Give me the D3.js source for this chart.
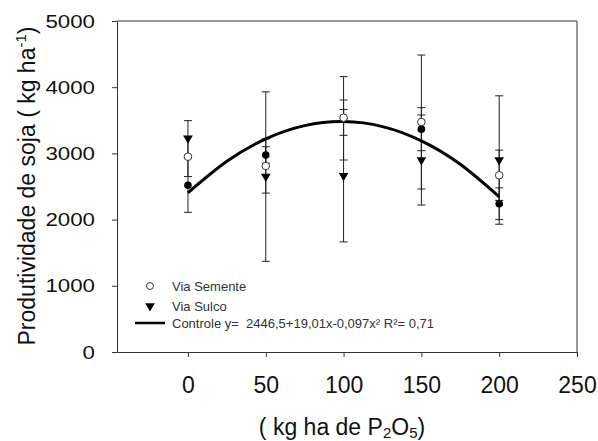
<!DOCTYPE html>
<html>
<head>
<meta charset="utf-8">
<script src="https://cdn.jsdelivr.net/npm/d3@7"></script>
<style>
  body { margin: 0; background: #fff; }
  svg { font-family: "Liberation Sans", Arial, sans-serif; }
</style>
</head>
<body>
<div id="chart"></div>
<script>
// doses (kg ha de P2O5)
var doses = [0, 50, 100, 150, 200]

// Via Semente (open circles)
var semente = [2950, 2810, 3540, 3474, 2670]
var sementeErr = [300, 410, 267, 1012, 380]

// Via Sulco (filled triangles)
var sulco = [3230, 2650, 2663, 2900, 2900]
var sulcoErr = [265, 1280, 1000, 680, 970]

// Controle (filled circles)
var controle = [2520, 2976, 3530, 3366, 2240]
var controleErr = [410, 125, 630, 325, 240]

// regression curve
var curveX = [0, 25, 50, 75, 100, 125, 150, 175, 200]
var curveY = [2405, 2880, 3220, 3420, 3480, 3405, 3190, 2835, 2345]

var xTicks = [0, 50, 100, 150, 200, 250]
var yTicks = [0, 1000, 2000, 3000, 4000, 5000]

var width = 598
var height = 441
var margin = {top: 21, right: 21, bottom: 89, left: 117}
var w = width - margin.left - margin.right
var h = height - margin.top - margin.bottom

var svg = d3.select("#chart").append("svg")
  .attr("width", width)
  .attr("height", height)

var x = d3.scaleLinear().domain([-45.6, 250]).range([0, w])
var y = d3.scaleLinear().domain([0, 5000]).range([h, 0])

var main = svg.append("g")
  .attr("transform", "translate(" + margin.left + "," + margin.top + ")")

// frame top + right
main.append("line").attr("x1", 0).attr("x2", w).attr("y1", 0).attr("y2", 0)
  .attr("stroke", "#333").attr("stroke-width", 1)
main.append("line").attr("x1", w).attr("x2", w).attr("y1", 0).attr("y2", h)
  .attr("stroke", "#333").attr("stroke-width", 1)

// x axis
var xAxis = main.append("g")
  .attr("transform", "translate(0," + h + ")")
  .call(d3.axisBottom(x).tickValues(xTicks).tickFormat(d3.format("d"))
    .tickSize(5).tickSizeOuter(0).tickPadding(20))
xAxis.select(".domain").attr("stroke", "#333")
xAxis.selectAll(".tick line").attr("stroke", "#333")
xAxis.selectAll("text")
  .attr("font-size", 23).attr("fill", "#111")
  .attr("font-family", "Liberation Sans, Arial, sans-serif")

// y axis
var yAxis = main.append("g")
  .call(d3.axisLeft(y).tickValues(yTicks).tickFormat(d3.format("d"))
    .tickSize(5).tickSizeOuter(0).tickPadding(17))
yAxis.select(".domain").attr("stroke", "#333")
yAxis.selectAll(".tick line").attr("stroke", "#333")
yAxis.selectAll("text")
  .attr("font-size", 19).attr("fill", "#111")
  .attr("font-family", "Liberation Sans, Arial, sans-serif")
  .attr("textLength", function(d) { return String(d).length * 12.4 })
  .attr("lengthAdjust", "spacingAndGlyphs")

// error bars
function errorBars(vals, errs) {
  var g = main.append("g")
  doses.forEach(function(d, i) {
    var cx = x(d)
    var lo = y(vals[i] - errs[i])
    var hi = y(vals[i] + errs[i])
    g.append("line").attr("x1", cx).attr("x2", cx).attr("y1", lo).attr("y2", hi)
      .attr("stroke", "#222").attr("stroke-width", 1)
    g.append("line").attr("x1", cx - 4).attr("x2", cx + 4).attr("y1", lo).attr("y2", lo)
      .attr("stroke", "#222").attr("stroke-width", 1)
    g.append("line").attr("x1", cx - 4).attr("x2", cx + 4).attr("y1", hi).attr("y2", hi)
      .attr("stroke", "#222").attr("stroke-width", 1)
  })
}
errorBars(sulco, sulcoErr)
errorBars(controle, controleErr)
errorBars(semente, sementeErr)

// fitted curve
var line = d3.line()
  .x(function(d) { return x(d[0]) })
  .y(function(d) { return y(d[1]) })
  .curve(d3.curveNatural)
main.append("path")
  .datum(curveX.map(function(v, i) { return [v, curveY[i]] }))
  .attr("d", line)
  .attr("fill", "none")
  .attr("stroke", "#000")
  .attr("stroke-width", 3)

var tri = d3.symbol().type(d3.symbolTriangle).size(40)

// controle points
main.selectAll(".ctl").data(doses).enter().append("circle")
  .attr("cx", function(d) { return x(d) })
  .attr("cy", function(d, i) { return y(controle[i]) })
  .attr("r", 3.8)
  .attr("fill", "#000")

// sulco triangles (pointing down)
main.selectAll(".sul").data(doses).enter().append("path")
  .attr("d", tri)
  .attr("transform", function(d, i) { return "translate(" + x(d) + "," + y(sulco[i]) + ") rotate(180)" })
  .attr("fill", "#000")

// semente open circles
main.selectAll(".sem").data(doses).enter().append("circle")
  .attr("cx", function(d) { return x(d) })
  .attr("cy", function(d, i) { return y(semente[i]) })
  .attr("r", 3.8)
  .attr("fill", "#fff")
  .attr("stroke", "#333")
  .attr("stroke-width", 1)

// legend
var leg = svg.append("g").attr("font-size", 13).attr("fill", "#333")
leg.append("circle").attr("cx", 150).attr("cy", 286).attr("r", 3.5)
  .attr("fill", "#fff").attr("stroke", "#333").attr("stroke-width", 1)
leg.append("text").attr("x", 172).attr("y", 290.5).text("Via Semente")
leg.append("path").attr("d", tri)
  .attr("transform", "translate(150,306) rotate(180)").attr("fill", "#000")
leg.append("text").attr("x", 172).attr("y", 310.5).text("Via Sulco")
leg.append("line").attr("x1", 135).attr("x2", 165).attr("y1", 323).attr("y2", 323)
  .attr("stroke", "#000").attr("stroke-width", 2.5)
leg.append("text").attr("x", 172).attr("y", 327.5)
  .attr("xml:space", "preserve")
  .text("Controle y=  2446,5+19,01x-0,097x\u00b2 R\u00b2= 0,71")

// y title
var yt = svg.append("text")
  .attr("transform", "translate(35,186) rotate(-90)")
  .attr("text-anchor", "middle")
  .attr("font-size", 23)
  .attr("fill", "#111")
yt.append("tspan").text("Produtividade de soja ( kg ha")
yt.append("tspan").attr("font-size", 15).attr("dy", -9).text("-1")
yt.append("tspan").attr("dy", 9).text(")")

// x title
var xt = svg.append("text")
  .attr("x", 342).attr("y", 435)
  .attr("text-anchor", "middle")
  .attr("font-size", 23)
  .attr("fill", "#111")
xt.append("tspan").text("( kg ha de P")
xt.append("tspan").attr("font-size", 15).attr("dy", 3).text("2")
xt.append("tspan").attr("dy", -3).text("O")
xt.append("tspan").attr("font-size", 15).attr("dy", 3).text("5")
xt.append("tspan").attr("dy", -3).text(")")
</script>
</body>
</html>
